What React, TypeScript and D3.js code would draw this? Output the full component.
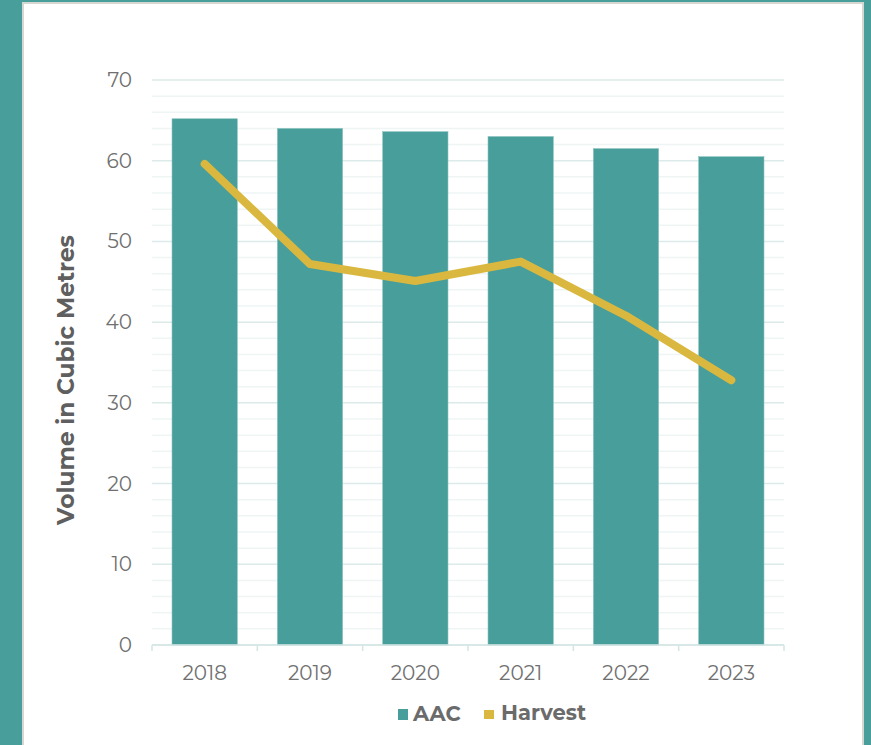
import React from "react";
import * as d3 from "d3";

const years = ["2018", "2019", "2020", "2021", "2022", "2023"];
const aac = [65.2, 64.0, 63.6, 63.0, 61.5, 60.5];
const harvest = [59.6, 47.2, 45.1, 47.5, 40.8, 32.8];
const yTicks = [0, 10, 20, 30, 40, 50, 60, 70];
const minorTicks = d3.range(0, 71, 2);

const W = 871, H = 745;
const left = 152, right = 784, top = 80, bottom = 645;
const teal = "#479e9a";
const gold = "#dab83f";
const font = "Montserrat, 'Open Sans', 'Noto Sans', sans-serif";

export default function App() {
  const x = d3.scaleBand().domain(years).range([left, right]).paddingInner(0.38).paddingOuter(0.19);
  const xb = d3.scaleBand().domain(years).range([left, right]);
  const y = d3.scaleLinear().domain([0, 70]).range([bottom, top]);
  const line = d3.line<number>()
    .x((_, i) => (xb(years[i]) as number) + xb.bandwidth() / 2)
    .y((d) => y(d));
  return (
    <svg width={W} height={H} style={{ position: "absolute", left: 0, top: 0, display: "block" }}>
      <rect x={0} y={0} width={W} height={H} fill={teal} />
      <rect x={23} y={3} width={840} height={H} fill="#ffffff" stroke="#d6d6d2" strokeWidth={2} />
      {minorTicks.map((t) => (
        <line key={"m" + t} x1={left} x2={right} y1={y(t)} y2={y(t)} stroke={t % 10 === 0 ? "#dcebe9" : "#eef5f4"} strokeWidth={1.5} />
      ))}
      {years.map((yr, i) => (
        <rect key={yr} x={x(yr)} y={y(aac[i])} width={x.bandwidth()} height={y(0) - y(aac[i])} fill={teal} stroke="#8cc3bf" strokeWidth={0.6} />
      ))}
      <line x1={left} x2={right} y1={bottom} y2={bottom} stroke="#d3e6e4" strokeWidth={1.5} />
      {d3.range(0, years.length + 1).map((i) => {
        const xx = left + i * xb.step();
        return <line key={"t" + i} x1={xx} x2={xx} y1={bottom} y2={bottom + 6} stroke="#d3e6e4" strokeWidth={1.5} />;
      })}
      <path d={line(harvest) || ""} fill="none" stroke={gold} strokeWidth={8} strokeLinecap="round" strokeLinejoin="round" />
      {yTicks.map((t) => (
        <text key={"y" + t} x={132} y={y(t)} dy="0.35em" textAnchor="end" fontFamily={font} fontSize={20} fill="#707070">{t}</text>
      ))}
      {years.map((yr) => (
        <text key={"x" + yr} x={(xb(yr) as number) + xb.bandwidth() / 2} y={680} textAnchor="middle" fontFamily={font} fontSize={20} fill="#707070">{yr}</text>
      ))}
      <text transform={`translate(74,380) rotate(-90)`} textAnchor="middle" fontFamily={font} fontSize={23.3} fontWeight="bold" fill="#5f5f5f">Volume in Cubic Metres</text>
      <rect x={398} y={709} width={10} height={11} fill={teal} />
      <text x={413} y={721} fontFamily={font} fontSize={21} fontWeight="bold" fill="#6b6b6b">AAC</text>
      <rect x={484} y={710} width={10} height={9} fill={gold} />
      <text x={501} y={720} fontFamily={font} fontSize={21} fontWeight="bold" fill="#6b6b6b">Harvest</text>
    </svg>
  );
}
